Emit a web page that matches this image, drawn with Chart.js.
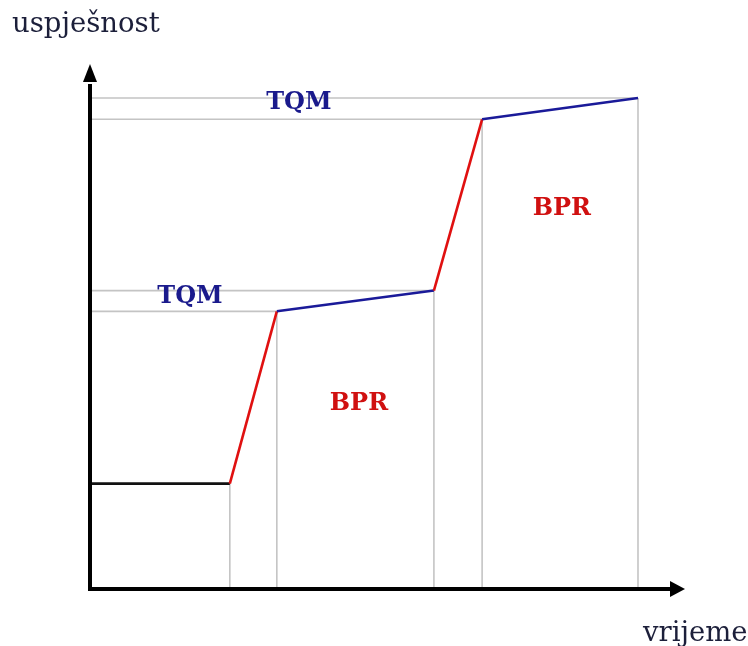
<!DOCTYPE html>
<html>
<head>
<meta charset="utf-8">
<script src="https://cdn.jsdelivr.net/npm/chart.js@4/dist/chart.umd.min.js"></script>
<style>
  html, body { margin: 0; padding: 0; background: #fff; }
  #wrap { position: relative; width: 748px; height: 646px; }
</style>
</head>
<body>
<div id="wrap"><canvas id="chart" width="748" height="646"></canvas></div>
<script>
  // path of performance over time (x = vrijeme, y = uspješnost)
  const pathX = [0, 23.5, 31.4, 57.8, 65.9, 92.1];
  const pathY = [20.3, 20.3, 53.5, 57.5, 90.5, 94.6];
  const segmentColors = ["#111111", "#e01010", "#1a1a99", "#e01010", "#1a1a99"];

  // phase labels: [text, x, y, color]
  const phaseLabels = [
    ["TQM", 35.1, 93.6, "#1a1a8c"],
    ["TQM", 16.8, 56.4, "#1a1a8c"],
    ["BPR", 79.3, 73.3, "#d01010"],
    ["BPR", 45.2, 35.7, "#d01010"]
  ];

  const axisTitleY = "uspješnost";
  const axisTitleX = "vrijeme";

  const points = pathX.map((x, i) => ({ x, y: pathY[i] }));

  // gray guides from each corner point to both axes
  const guidePlugin = {
    id: "guides",
    beforeDatasetsDraw(chart) {
      const { ctx, scales: { x, y } } = chart;
      const x0 = x.getPixelForValue(0);
      const y0 = y.getPixelForValue(0);
      ctx.save();
      ctx.strokeStyle = "#c4c4c4";
      ctx.lineWidth = 1.6;
      ctx.beginPath();
      for (let i = 1; i < points.length; i++) {
        const px = x.getPixelForValue(points[i].x);
        const py = y.getPixelForValue(points[i].y);
        ctx.moveTo(px, py);
        ctx.lineTo(px, y0);
        if (i >= 2) {
          ctx.moveTo(x0, py);
          ctx.lineTo(px, py);
        }
      }
      ctx.stroke();
      ctx.restore();
    },
    afterDatasetsDraw(chart) {
      const { ctx, scales: { x, y } } = chart;
      const x0 = x.getPixelForValue(0);
      const y0 = y.getPixelForValue(0);
      const xEnd = x.right;
      const yEnd = y.top;
      ctx.save();
      // axes with arrow heads
      ctx.strokeStyle = "#000";
      ctx.fillStyle = "#000";
      ctx.lineWidth = 4;
      ctx.beginPath();
      ctx.moveTo(x0, yEnd + 14);
      ctx.lineTo(x0, y0);
      ctx.lineTo(xEnd - 12, y0);
      ctx.stroke();
      ctx.beginPath();
      ctx.moveTo(x0, yEnd - 6);
      ctx.lineTo(x0 - 7, yEnd + 12);
      ctx.lineTo(x0 + 7, yEnd + 12);
      ctx.closePath();
      ctx.fill();
      ctx.beginPath();
      ctx.moveTo(xEnd, y0);
      ctx.lineTo(xEnd - 15, y0 - 8);
      ctx.lineTo(xEnd - 15, y0 + 8);
      ctx.closePath();
      ctx.fill();

      // phase labels
      ctx.font = "bold 24px 'DejaVu Serif'";
      ctx.textAlign = "center";
      ctx.textBaseline = "middle";
      phaseLabels.forEach(([text, lx, ly, color]) => {
        ctx.fillStyle = color;
        ctx.fillText(text, x.getPixelForValue(lx), y.getPixelForValue(ly));
      });

      // axis titles
      ctx.font = "27.5px 'DejaVu Serif'";
      ctx.fillStyle = "#1c1f3a";
      ctx.textAlign = "left";
      ctx.textBaseline = "alphabetic";
      ctx.fillText(axisTitleY, 12, 32);
      ctx.fillText(axisTitleX, 643, 641);
      ctx.restore();
    }
  };

  new Chart(document.getElementById("chart"), {
    type: "scatter",
    data: {
      datasets: [{
        data: points,
        showLine: true,
        borderWidth: 2.6,
        pointRadius: 0,
        borderColor: "#111",
        segment: {
          borderColor: c => segmentColors[c.p0DataIndex]
        }
      }]
    },
    options: {
      responsive: false,
      animation: false,
      events: [],
      layout: { padding: { left: 90, right: 63, top: 70, bottom: 57 } },
      plugins: { legend: { display: false }, tooltip: { enabled: false } },
      scales: {
        x: { type: "linear", min: 0, max: 100, display: false },
        y: { type: "linear", min: 0, max: 100, display: false }
      }
    },
    plugins: [guidePlugin]
  });
</script>
</body>
</html>
